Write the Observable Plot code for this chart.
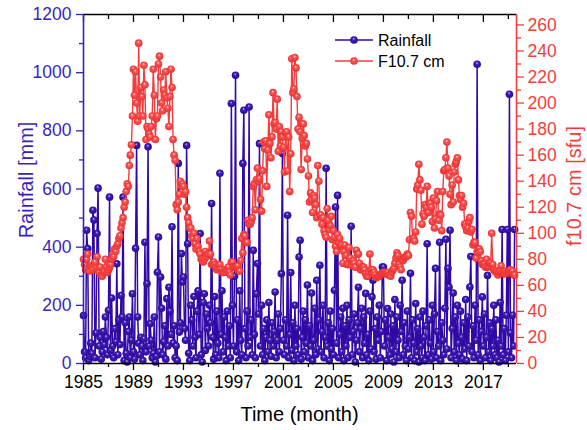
<!DOCTYPE html>
<html><head><meta charset="utf-8">
<script src="https://cdn.jsdelivr.net/npm/d3@7"></script>
<script src="https://cdn.jsdelivr.net/npm/@observablehq/plot@0.6"></script>
<style>body{margin:0;background:#fff}</style>
</head><body><div id="chart"></div>
<script>
const startYear = 1985;
// monthly rainfall [mm], Jan 1985 .. Jul 2019
const rainfall = [
165,40,20,458,395,10,25,70,35,527,493,20,
105,447,603,60,90,15,40,110,65,160,90,30,
183,572,45,225,60,20,120,75,343,30,150,65,
234,160,572,10,140,35,5,110,160,20,80,240,
40,15,396,750,160,70,30,90,60,10,85,417,
40,275,745,60,137,80,20,35,160,5,25,314,
435,40,297,190,30,75,130,15,223,60,262,180,
100,470,70,130,20,60,10,688,108,140,378,280,
297,120,80,750,412,35,10,200,150,60,230,90,
20,180,250,100,447,30,5,210,240,45,170,120,
60,200,140,550,90,15,230,30,180,70,20,654,
100,250,40,160,90,10,180,60,130,20,894,200,
60,300,991,40,150,10,250,80,30,688,871,120,
20,180,60,882,90,150,30,389,100,20,240,344,
170,756,60,200,30,120,10,90,150,40,210,80,
25,140,60,110,246,20,80,170,40,120,309,722,
80,30,150,60,510,20,100,313,45,140,10,200,
60,120,30,366,424,15,90,180,40,150,70,270,
20,130,60,242,10,80,190,30,286,50,150,338,
40,110,200,20,90,671,60,140,10,180,50,120,
30,252,538,70,578,20,100,160,40,190,10,130,
60,200,20,150,90,472,30,110,170,5,80,140,
262,40,120,190,20,160,70,241,30,100,10,180,
50,229,286,40,120,15,160,80,200,20,110,332,
332,60,150,10,189,90,30,170,50,130,5,220,
40,160,80,20,200,110,286,30,140,60,10,180,
50,90,310,20,150,70,10,206,40,120,5,160,
60,20,180,90,10,130,412,30,150,70,15,200,
40,170,327,20,110,60,417,10,140,80,30,190,
427,50,327,263,458,20,120,242,40,160,10,200,
70,30,180,90,15,140,50,220,10,160,60,263,
368,40,130,20,200,80,1029,30,150,10,110,229,
60,170,20,90,303,40,140,10,120,60,200,30,
150,20,80,5,210,60,461,30,120,10,166,461,
40,926,105,20,166,60,461
];
// monthly F10.7 cm solar flux [sfu], Jan 1985 .. Jul 2019
const f107 = [
80,76,72,80,84,72,71,75,74,72,76,78,
73,82,72,70,74,68,67,70,71,80,74,70,
72,74,76,80,84,82,88,86,90,92,96,98,
104,108,112,120,124,132,138,136,152,160,168,190,
226,206,224,200,186,246,190,212,205,190,229,214,
172,182,180,176,174,182,190,226,206,172,188,190,
230,236,220,200,194,210,206,224,204,196,182,205,
226,212,172,160,156,122,118,124,130,140,136,138,
136,130,132,120,112,108,104,104,98,96,100,92,
88,96,90,86,84,80,80,78,80,86,82,84,
84,94,84,76,76,78,76,74,72,74,76,76,
72,70,70,70,72,70,72,74,70,68,78,78,
74,74,74,74,75,71,71,79,96,85,99,98,
93,93,110,107,107,109,112,136,138,118,141,150,
140,142,126,117,148,170,165,171,136,164,191,169,
158,174,208,184,185,180,203,163,182,167,178,174,
166,147,177,178,148,174,132,161,234,208,211,235,
227,205,180,189,178,149,173,184,175,167,169,157,
144,124,131,126,116,129,127,122,112,152,140,114,
114,107,112,102,99,97,119,110,103,106,113,95,
102,97,90,86,99,93,96,90,91,77,86,91,
83,76,76,89,81,76,75,79,77,74,87,84,
84,77,72,72,74,74,72,69,67,67,70,84,
72,70,72,70,68,66,66,67,67,68,69,69,
70,70,69,69,70,68,68,67,70,72,73,77,
81,85,83,76,74,72,80,79,81,82,82,84,
83,95,116,113,96,96,94,101,134,137,153,141,
133,107,115,113,122,120,136,116,123,123,120,109,
127,104,111,125,132,110,115,114,102,132,148,149,
158,170,150,144,130,122,137,124,147,153,155,158,
141,129,126,129,120,123,107,105,102,104,109,112,
101,103,91,93,93,81,86,85,88,86,79,76,
77,77,74,80,74,75,77,77,100,76,72,71,
70,71,68,70,71,75,70,69,69,71,69,70,
71,71,72,70,71,68,68
];
const xTicksMajor = [1985,1989,1993,1997,2001,2005,2009,2013,2017];
const xTicksMinor = [1987,1991,1995,1999,2003,2007,2011,2015,2019];
const leftTicks = [0,200,400,600,800,1000,1200];
const leftMinor = [100,300,500,700,900,1100];
const rightTicks = [0,20,40,60,80,100,120,140,160,180,200,220,240,260];
const rightMinor = [10,30,50,70,90,110,130,150,170,190,210,230,250];

const xDomain = [1985, 2019.65];
const yMax = 1200, rMax = 268;
const k = yMax / rMax;

const BLUE = "#3008a8", BLUE_T = "#3a1fc0", RED = "#f43c3c";

const rain = rainfall.map((v, i) => ({t: startYear + i / 12, v}));
const flux = f107.map((v, i) => ({t: startYear + i / 12, v: v * k}));

const chart = Plot.plot({
  width: 587, height: 430,
  marginLeft: 83, marginRight: 71, marginTop: 14, marginBottom: 67,
  style: {background: "white", fontFamily: "'Liberation Sans', Arial, sans-serif", fontSize: "17.5px", overflow: "visible"},
  x: {domain: xDomain, axis: null},
  y: {domain: [0, yMax], axis: null},
  marks: [
    Plot.lineY(rain, {x: "t", y: "v", stroke: BLUE, strokeWidth: 1.5}),
    Plot.dot(rain, {x: "t", y: "v", r: 3.8, fill: "url(#gb)", stroke: "none"}),
    Plot.lineY(flux, {x: "t", y: "v", stroke: RED, strokeWidth: 1.4}),
    Plot.dot(flux, {x: "t", y: "v", r: 3.8, fill: "url(#gr)", stroke: "none"}),
    // left axis
    Plot.axisY(leftTicks, {anchor: "left", tickSize: 7, tickPadding: 5, stroke: BLUE_T, fill: BLUE_T, strokeWidth: 1.3, tickFormat: d => String(d), label: null}),
    Plot.axisY(leftMinor, {anchor: "left", tickSize: 4, text: null, stroke: BLUE_T, strokeWidth: 1.3, label: null}),
    // right axis
    Plot.axisY(rightTicks.map(d => d * k), {anchor: "right", tickSize: 7, tickPadding: 4, stroke: RED, fill: RED, strokeWidth: 1.3, tickFormat: d => String(Math.round(d / k)), label: null}),
    Plot.axisY(rightMinor.map(d => d * k), {anchor: "right", tickSize: 4, text: null, stroke: RED, strokeWidth: 1.3, label: null}),
    // bottom axis
    Plot.axisX(xTicksMajor, {anchor: "bottom", tickSize: 7, tickPadding: 5, stroke: "#000", fill: "#000", strokeWidth: 1.3, tickFormat: d => String(d), label: null}),
    Plot.axisX(xTicksMinor, {anchor: "bottom", tickSize: 4, text: null, stroke: "#000", strokeWidth: 1.3, label: null}),
    // top ticks (inward)
    Plot.axisX(xTicksMajor, {anchor: "top", tickSize: -7, text: null, stroke: "#000", strokeWidth: 1.3, label: null}),
    Plot.axisX(xTicksMinor, {anchor: "top", tickSize: -4, text: null, stroke: "#000", strokeWidth: 1.3, label: null}),
    // frame lines
    Plot.ruleY([yMax], {stroke: "#000", strokeWidth: 1.6}),
    Plot.ruleY([0], {stroke: "#000", strokeWidth: 1.6}),
    Plot.ruleX([xDomain[0]], {stroke: BLUE_T, strokeWidth: 1.6}),
    Plot.ruleX([xDomain[1]], {stroke: RED, strokeWidth: 1.6})
  ]
});

document.getElementById("chart").appendChild(chart);

const svg = d3.select(chart);
const defs = svg.insert("defs", ":first-child");
function grad(id, c0, c1, c2) {
  const g = defs.append("radialGradient").attr("id", id)
    .attr("cx", "0.5").attr("cy", "0.5").attr("r", "0.55").attr("fx", "0.45").attr("fy", "0.32");
  g.append("stop").attr("offset", "0").attr("stop-color", c0);
  g.append("stop").attr("offset", "0.3").attr("stop-color", c1);
  g.append("stop").attr("offset", "1").attr("stop-color", c2);
}
grad("gb", "#d8d0f4", "#4420bc", "#26068c");
grad("gr", "#ffe4e4", "#ff5a5a", "#e42a2a");

const font = "'Liberation Sans', Arial, sans-serif";
svg.append("text").attr("x", 299.5).attr("y", 421).attr("text-anchor", "middle")
  .attr("font-family", font).attr("font-size", 20).attr("fill", "#000").text("Time (month)");
svg.append("text").attr("transform", "translate(33,180) rotate(-90)").attr("text-anchor", "middle")
  .attr("font-family", font).attr("font-size", 20).attr("fill", BLUE_T).text("Rainfall [mm]");
svg.append("text").attr("transform", "translate(581,186) rotate(-90)").attr("text-anchor", "middle")
  .attr("font-family", font).attr("font-size", 20).attr("fill", RED).text("f10.7 cm [sfu]");

// legend
const legend = [{name: "Rainfall", c: BLUE, g: "gb", y: 40}, {name: "F10.7 cm", c: RED, g: "gr", y: 61}];
const lg = svg.append("g");
legend.forEach(d => {
  lg.append("line").attr("x1", 335).attr("x2", 373).attr("y1", d.y).attr("y2", d.y).attr("stroke", d.c).attr("stroke-width", 1.5);
  lg.append("circle").attr("cx", 354).attr("cy", d.y).attr("r", 3.8).attr("fill", `url(#${d.g})`);
  lg.append("text").attr("x", 378).attr("y", d.y + 6).attr("text-anchor", "start").attr("font-family", font).attr("font-size", 16).attr("fill", "#000").text(d.name);
});
</script>
</body></html>
